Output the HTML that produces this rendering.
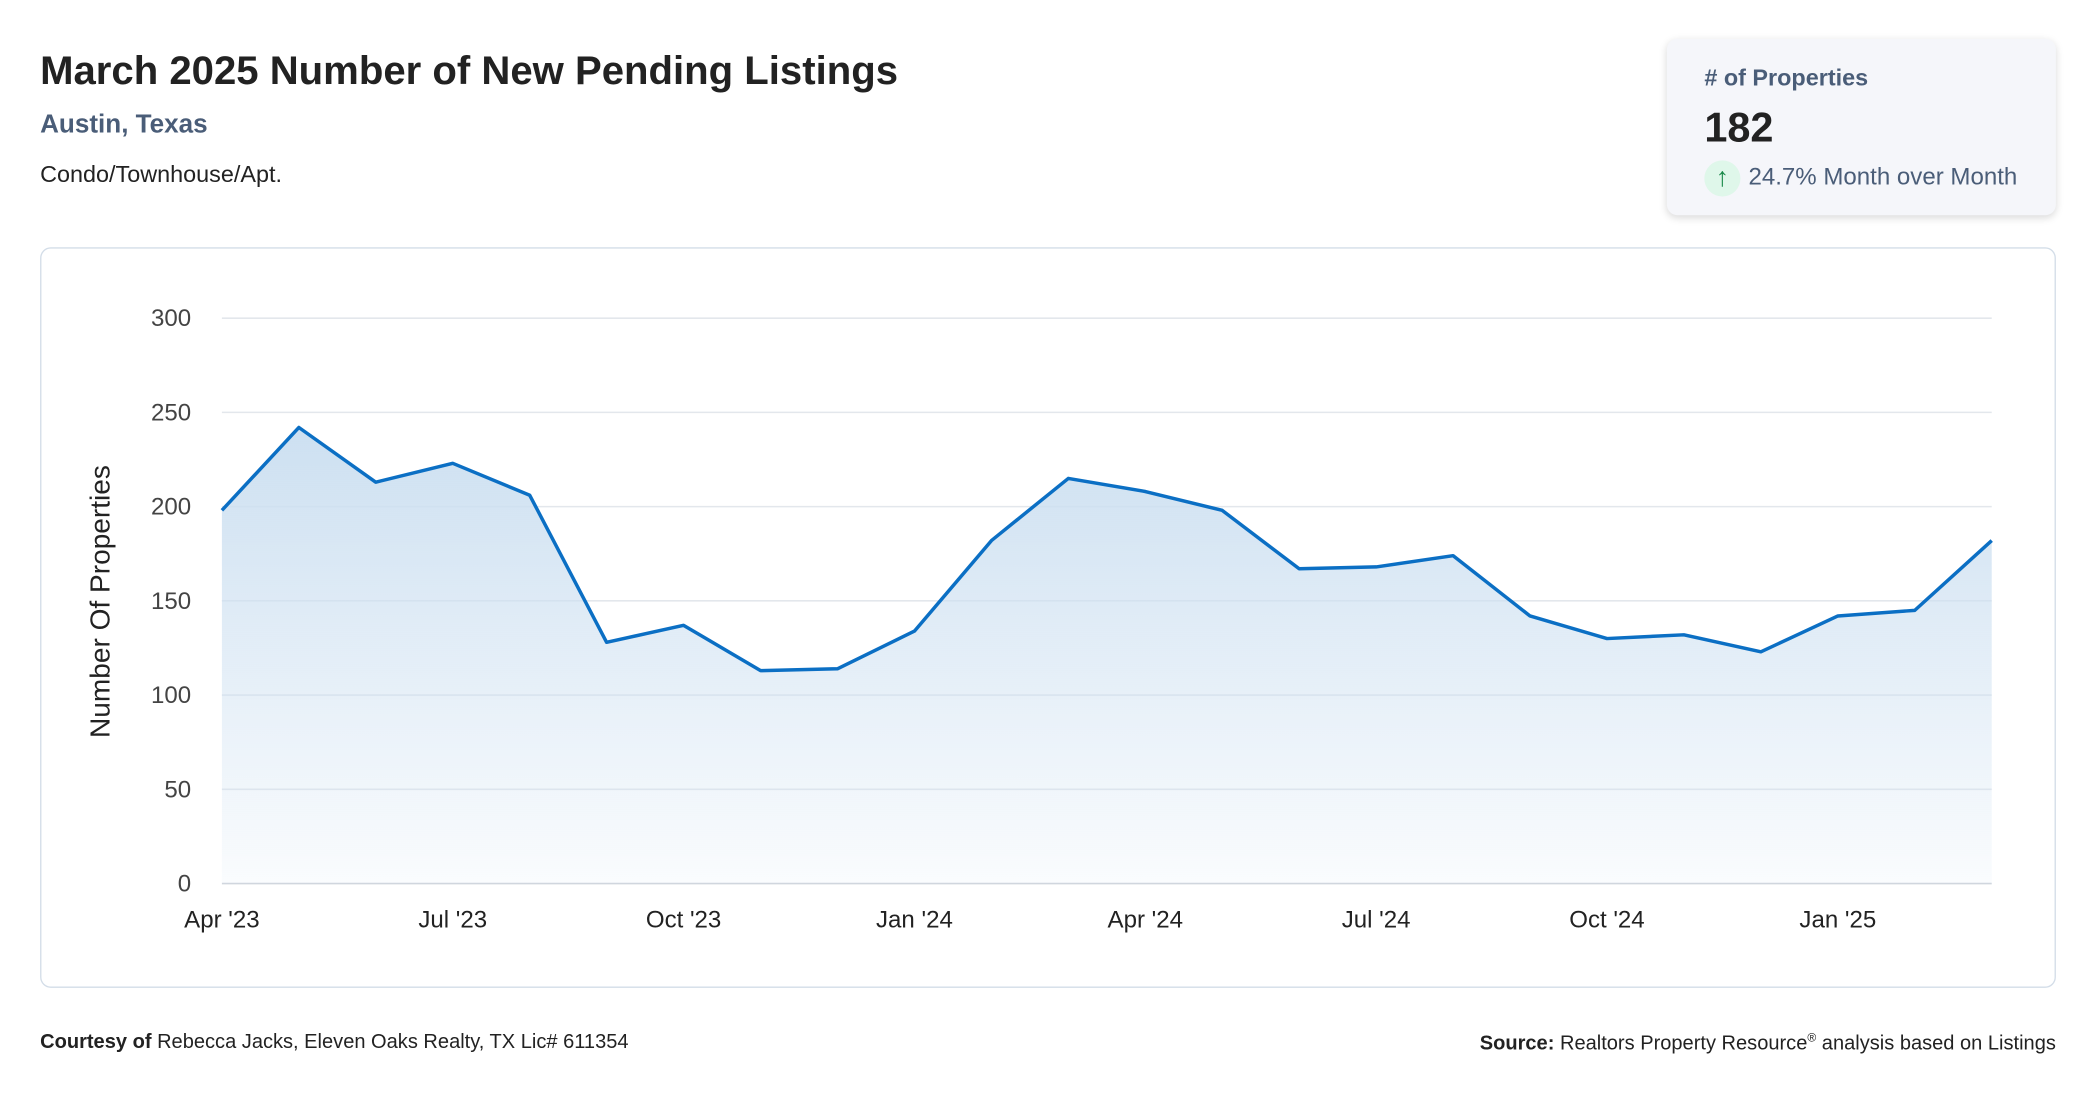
<!DOCTYPE html>
<html><head><meta charset="utf-8"><style>
html,body{margin:0;padding:0;background:#fff;width:2096px;height:1100px;overflow:hidden}
#wrap{position:absolute;left:0;top:0;width:1568px;height:823px;transform:scale(1.33673);transform-origin:0 0;font-family:"Liberation Sans",sans-serif}
.abs{position:absolute}
</style></head><body>
<div id="wrap">
<div class="abs" style="left:30px;top:37px;font-size:30px;font-weight:bold;color:#222">March 2025 Number of New Pending Listings</div>
<div class="abs" style="left:30px;top:82px;font-size:19.5px;font-weight:bold;color:#4a5d78">Austin, Texas</div>
<div class="abs" style="left:30px;top:120px;font-size:17.5px;color:#222">Condo/Townhouse/Apt.</div>
<div class="abs" style="left:1247px;top:29px;width:291px;height:132px;background:#f5f6fa;border-radius:8px;box-shadow:0 2px 6px rgba(0,0,0,0.15)">
  <div class="abs" style="left:28px;top:19px;font-size:17.5px;font-weight:bold;color:#4a5d78"># of Properties</div>
  <div class="abs" style="left:28px;top:49px;font-size:31px;font-weight:bold;color:#222">182</div>
  <div class="abs" style="left:28px;top:91px;width:27px;height:27px;border-radius:50%;background:#dff7ea;color:#1a8a4a;font-size:20px;font-weight:bold;text-align:center;line-height:26px">↑</div>
  <div class="abs" style="left:61px;top:93px;font-size:18px;color:#4a5d78">24.7% Month over Month</div>
</div>
<div class="abs" style="left:30px;top:185px;width:1506px;height:552px;border:1px solid #d3dde8;border-radius:8px"></div>
<svg class="abs" style="left:0;top:0" width="1568" height="823">
<defs><linearGradient id="g" x1="0" y1="0" x2="0" y2="1"><stop offset="0" stop-color="#cde0f1"/><stop offset="1" stop-color="#cde0f1" stop-opacity="0.1"/></linearGradient></defs>
<g id="grid"></g><path id="area" fill="url(#g)"/><path id="line" fill="none" stroke="#0b6fc4" stroke-width="2.6" stroke-linejoin="round"/><g id="labels"></g>
<text transform="translate(82,450) rotate(-90)" text-anchor="middle" font-size="21" fill="#222" font-family="Liberation Sans">Number Of Properties</text>
</svg>
<div class="abs" style="left:30px;top:771px;font-size:15px;color:#222"><b>Courtesy of</b> Rebecca Jacks, Eleven Oaks Realty, TX Lic# 611354</div>
<div class="abs" style="right:30px;top:771px;font-size:15px;color:#222"><b>Source:</b> Realtors Property Resource<sup style="font-size:9px">®</sup> analysis based on Listings</div>
</div>
<script>
const values=[198,242,213,223,206,128,137,113,114,134,182,215,208,198,167,168,174,142,130,132,123,142,145,182];
const yTicks=[0,50,100,150,200,250,300];
const xTickLabels=["Apr '23","Jul '23","Oct '23","Jan '24","Apr '24","Jul '24","Oct '24","Jan '25"];
const xTickIdx=[0,3,6,9,12,15,18,21];
const X0=166,X1=1490,Y0=661,Y300=238;
const x=i=>X0+(X1-X0)*i/(values.length-1);
const y=v=>Y0-(Y0-Y300)*v/300;
const NS="http://www.w3.org/2000/svg";
const grid=document.getElementById('grid'),labels=document.getElementById('labels');
yTicks.forEach(t=>{
  const l=document.createElementNS(NS,'line');
  l.setAttribute('x1',X0);l.setAttribute('x2',X1);l.setAttribute('y1',y(t));l.setAttribute('y2',y(t));
  l.setAttribute('stroke',t===0?'#d0d6dd':'#e3e7ec');l.setAttribute('stroke-width','1.2');
  
  
  grid.appendChild(l);
  const tx=document.createElementNS(NS,'text');
  tx.setAttribute('x',143);tx.setAttribute('y',y(t)+6);tx.setAttribute('text-anchor','end');
  tx.setAttribute('font-size','18');tx.setAttribute('fill','#444');tx.setAttribute('font-family','Liberation Sans');
  tx.textContent=t;
  
  
  labels.appendChild(tx);
});
xTickIdx.forEach((i,k)=>{
  const tx=document.createElementNS(NS,'text');
  tx.setAttribute('x',x(i));tx.setAttribute('y',694);tx.setAttribute('text-anchor','middle');
  tx.setAttribute('font-size','18');tx.setAttribute('fill','#222');tx.setAttribute('font-family','Liberation Sans');
  tx.textContent=xTickLabels[k];
  
  
  labels.appendChild(tx);
});
let d=values.map((v,i)=>(i?'L':'M')+x(i).toFixed(1)+','+y(v).toFixed(1)).join(' ');
document.getElementById('line').setAttribute('d',d);
document.getElementById('area').setAttribute('d',d+' L'+X1+','+Y0+' L'+X0+','+Y0+' Z');
</script>
</body></html>
